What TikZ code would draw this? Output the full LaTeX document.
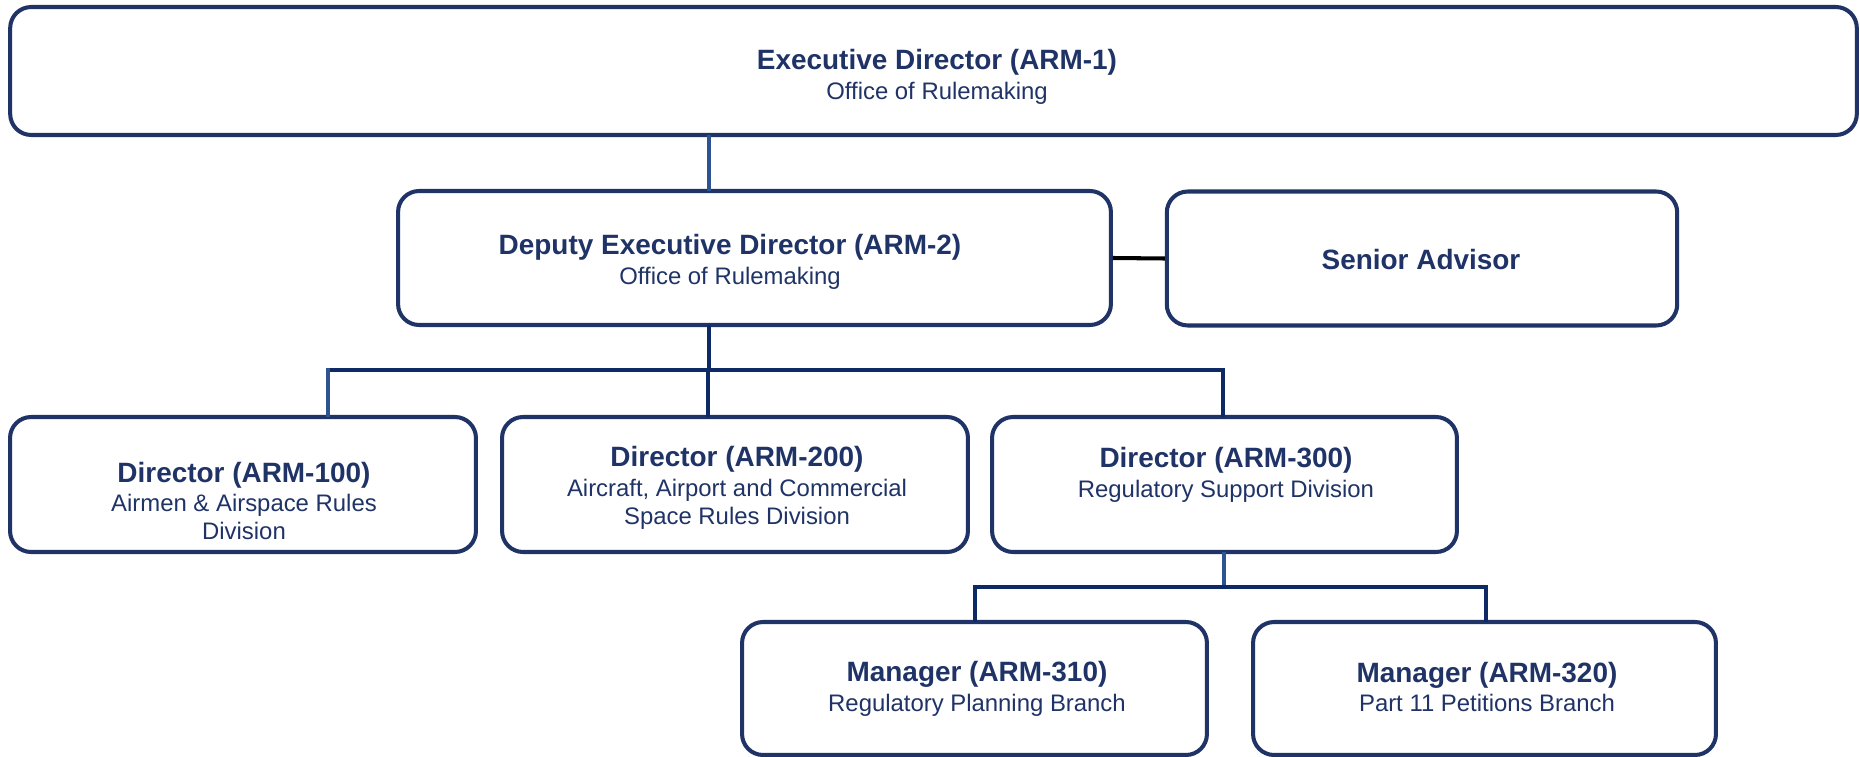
\documentclass[tikz,border=0pt]{standalone}
\usepackage{fontspec}
\setmainfont{Liberation Sans}
\usetikzlibrary{positioning}

\definecolor{navy}{HTML}{1F3366}
\definecolor{wire}{HTML}{0E2A66}
\definecolor{wirelt}{HTML}{2D5490}

\tikzset{
  unit/.style={draw=navy, line width=2.3pt, rounded corners=0.42cm, fill=white, inner sep=0pt},
  caption/.style={text=navy, align=center, inner sep=0pt, font=\fontsize{13.6}{15.9}\selectfont},
  link/.style={draw=wire, line width=2.1pt, line cap=rect},
  linklt/.style={draw=wirelt, line width=2.1pt, line cap=rect},
}
\newcommand{\ttl}[1]{{\bfseries\fontsize{15.9}{15.9}\selectfont #1}}

\begin{document}
\begin{tikzpicture}[x=0.02cm, y=-0.02cm]
        \useasboundingbox (0,0) rectangle (1860,757);

        % boxes
        \node[unit, minimum width=36.94cm, minimum height=2.56cm] (ed)   at (933.5,71)   {};
        \node[unit, minimum width=14.26cm, minimum height=2.68cm] (ded)  at (754.5,258)  {};
        \node[unit, minimum width=10.21cm, minimum height=2.68cm] (sa)   at (1422,258.5) {};
        \node[unit, minimum width=9.32cm,  minimum height=2.7cm]  (d100) at (243,484.5)  {};
        \node[unit, minimum width=9.32cm,  minimum height=2.7cm]  (d200) at (735,484.5)  {};
        \node[unit, minimum width=9.3cm,   minimum height=2.7cm]  (d300) at (1224.5,484.5) {};
        \node[unit, minimum width=9.3cm,   minimum height=2.66cm] (m310) at (974.5,688.5) {};
        \node[unit, minimum width=9.26cm,  minimum height=2.66cm] (m320) at (1484.5,688.5) {};

        % texts
        \node[caption] (ed-c)   at (937,77)   {\ttl{Executive Director (ARM-1)}\\[1pt]Office of Rulemaking};
        \node[caption] (ded-c)  at (730,262)  {\ttl{Deputy Executive Director (ARM-2)}\\[1pt]Office of Rulemaking};
        \node[caption] (sa-c)   at (1421,260) {\ttl{Senior Advisor}};
        \node[caption] (d100-c) at (244,501)  {\ttl{Director (ARM-100)}\\[1pt]Airmen \& Airspace Rules\\Division};
        \node[caption] (d200-c) at (737,488)  {\ttl{Director (ARM-200)}\\[1pt]Aircraft, Airport and Commercial\\Space Rules Division};
        \node[caption] (d300-c) at (1226,475) {\ttl{Director (ARM-300)}\\[1pt]Regulatory Support Division};
        \node[caption] (m310-c) at (977,689)  {\ttl{Manager (ARM-310)}\\[1pt]Regulatory Planning Branch};
        \node[caption] (m320-c) at (1487,687) {\ttl{Manager (ARM-320)}\\[1pt]Part 11 Petitions Branch};

        % junctions
        \coordinate (j1)   at (709,370);
        \coordinate (j100) at (328,370);
        \coordinate (j200) at (708,370);
        \coordinate (j300) at (1223,370);
        \coordinate (j2)   at (1224,587);
        \coordinate (j310) at (975,587);
        \coordinate (j320) at (1486,587);

        % connectors
        \draw[linklt] (ed.south -| j1) -- (ded.north -| j1);
        \draw[link]   (ded.south -| j1) -- (j1);
        \draw[link]   (j100) -- (j300) -- (d300.north -| j300);
        \draw[linklt] (j100) -- (d100.north -| j100);
        \draw[link]   (j200) -- (d200.north -| j200);
        \draw[linklt] (d300.south -| j2) -- (j2);
        \draw[link]   (m310.north -| j310) -- (j310) -- (j320) -- (m320.north -| j320);
        \draw[black, line width=2.3pt] (ded.east) -- (sa.west);
\end{tikzpicture}
\end{document}
